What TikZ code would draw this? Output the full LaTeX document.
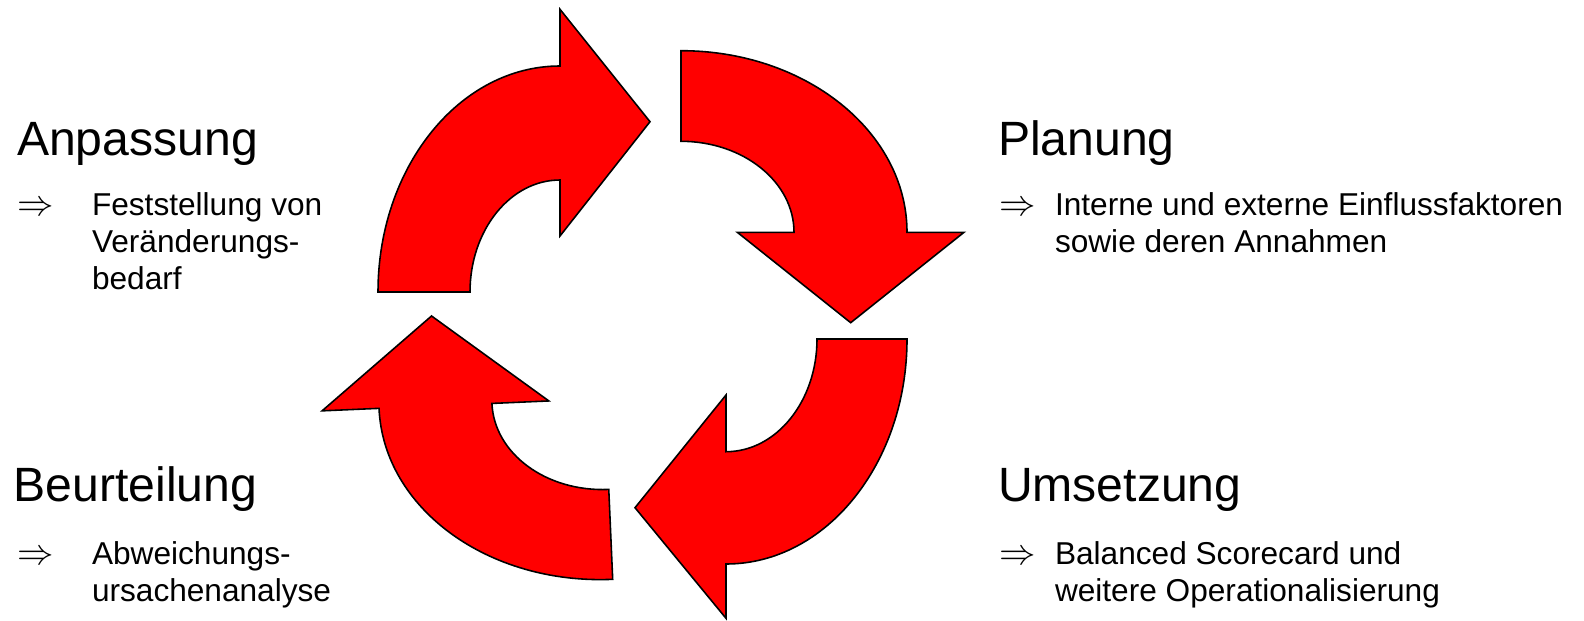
\documentclass[tikz,border=0pt]{standalone}
\usepackage{fontspec}
\setmainfont{Liberation Sans}
\begin{document}
\begin{tikzpicture}[x=0.02cm,y=0.02cm,
  bigarrow/.style={fill=red, draw=black, line width=0.9pt, line join=miter},
  headtext/.style={font=\fontsize{27.4}{32}\selectfont, anchor=base west, inner sep=0pt, outer sep=0pt},
  itemtext/.style={font=\fontsize{18}{21}\selectfont, anchor=base west, inner sep=0pt, outer sep=0pt},
  impltext/.style={font=\fontsize{20}{21}\selectfont, anchor=base west, inner sep=0pt, outer sep=0pt}]
\useasboundingbox (0,0) rectangle (1584,620);

% top-left arrow (pointing right)
\begin{scope}[shift={(560,328)}]
\draw[bigarrow] (-182,0) .. controls (-182,124.8) and (-100.5,226) .. (0,226) -- (0,282.7) -- (90,170.3) -- (0,56) -- (0,112) .. controls (-49.7,112) and (-90,61.9) .. (-90,0) -- cycle;
\end{scope}
% top-right arrow (pointing down)
\begin{scope}[shift={(681,387.7)}]
\draw[bigarrow] (0,181.6) .. controls (124.8,181.6) and (226,100.3) .. (226,0) -- (283,0) -- (169.7,-90.4) -- (56.3,0) -- (113,0) .. controls (113,50.3) and (62.4,91) .. (0,91) -- cycle;
\end{scope}
% bottom-right arrow (pointing left)
\begin{scope}[shift={(726,281)}]
\draw[bigarrow] (181,0) .. controls (181,-124.3) and (100,-225) .. (0,-225) -- (0,-279.3) -- (-91,-168.7) -- (0,-56) -- (0,-112.7) .. controls (50.3,-112.7) and (91,-62.2) .. (91,0) -- cycle;
\end{scope}
% bottom-left arrow (pointing up)
\begin{scope}[shift={(604.8,221.5)}, rotate=2.5]
\draw[bigarrow] (0,-181) .. controls (-124.8,-181) and (-226,-100) .. (-226,0) -- (-283,0) -- (-169.5,90) -- (-56,0) -- (-113,0) .. controls (-113,-50.3) and (-62.4,-91) .. (0,-91) -- cycle;
\end{scope}

% Anpassung
\node[headtext] (anp) at (17,465) {Anpassung};
\node[impltext] (anpimp) at (17,404.5) {$\Rightarrow$};
\node[itemtext] (anpa) at (92,404.5) {Feststellung von};
\node[itemtext] (anpb) at (92,367.5) {Veränderungs-};
\node[itemtext] (anpc) at (92,330.5) {bedarf};

% Planung
\node[headtext] (plan) at (998,465) {Planung};
\node[impltext] (planimp) at (999,404.5) {$\Rightarrow$};
\node[itemtext] (plana) at (1055,404.5) {Interne und externe Einflussfaktoren};
\node[itemtext] (planb) at (1055,367.5) {sowie deren Annahmen};

% Beurteilung
\node[headtext] (beur) at (13.5,119) {Beurteilung};
\node[impltext] (beurimp) at (17,56) {$\Rightarrow$};
\node[itemtext] (beura) at (92,56) {Abweichungs-};
\node[itemtext] (beurb) at (92,19) {ursachenanalyse};

% Umsetzung
\node[headtext] (ums) at (998,119) {Umsetzung};
\node[impltext] (umsimp) at (999,56) {$\Rightarrow$};
\node[itemtext] (umsa) at (1055,56) {Balanced Scorecard und};
\node[itemtext] (umsb) at (1055,19) {weitere Operationalisierung};
\end{tikzpicture}
\end{document}
